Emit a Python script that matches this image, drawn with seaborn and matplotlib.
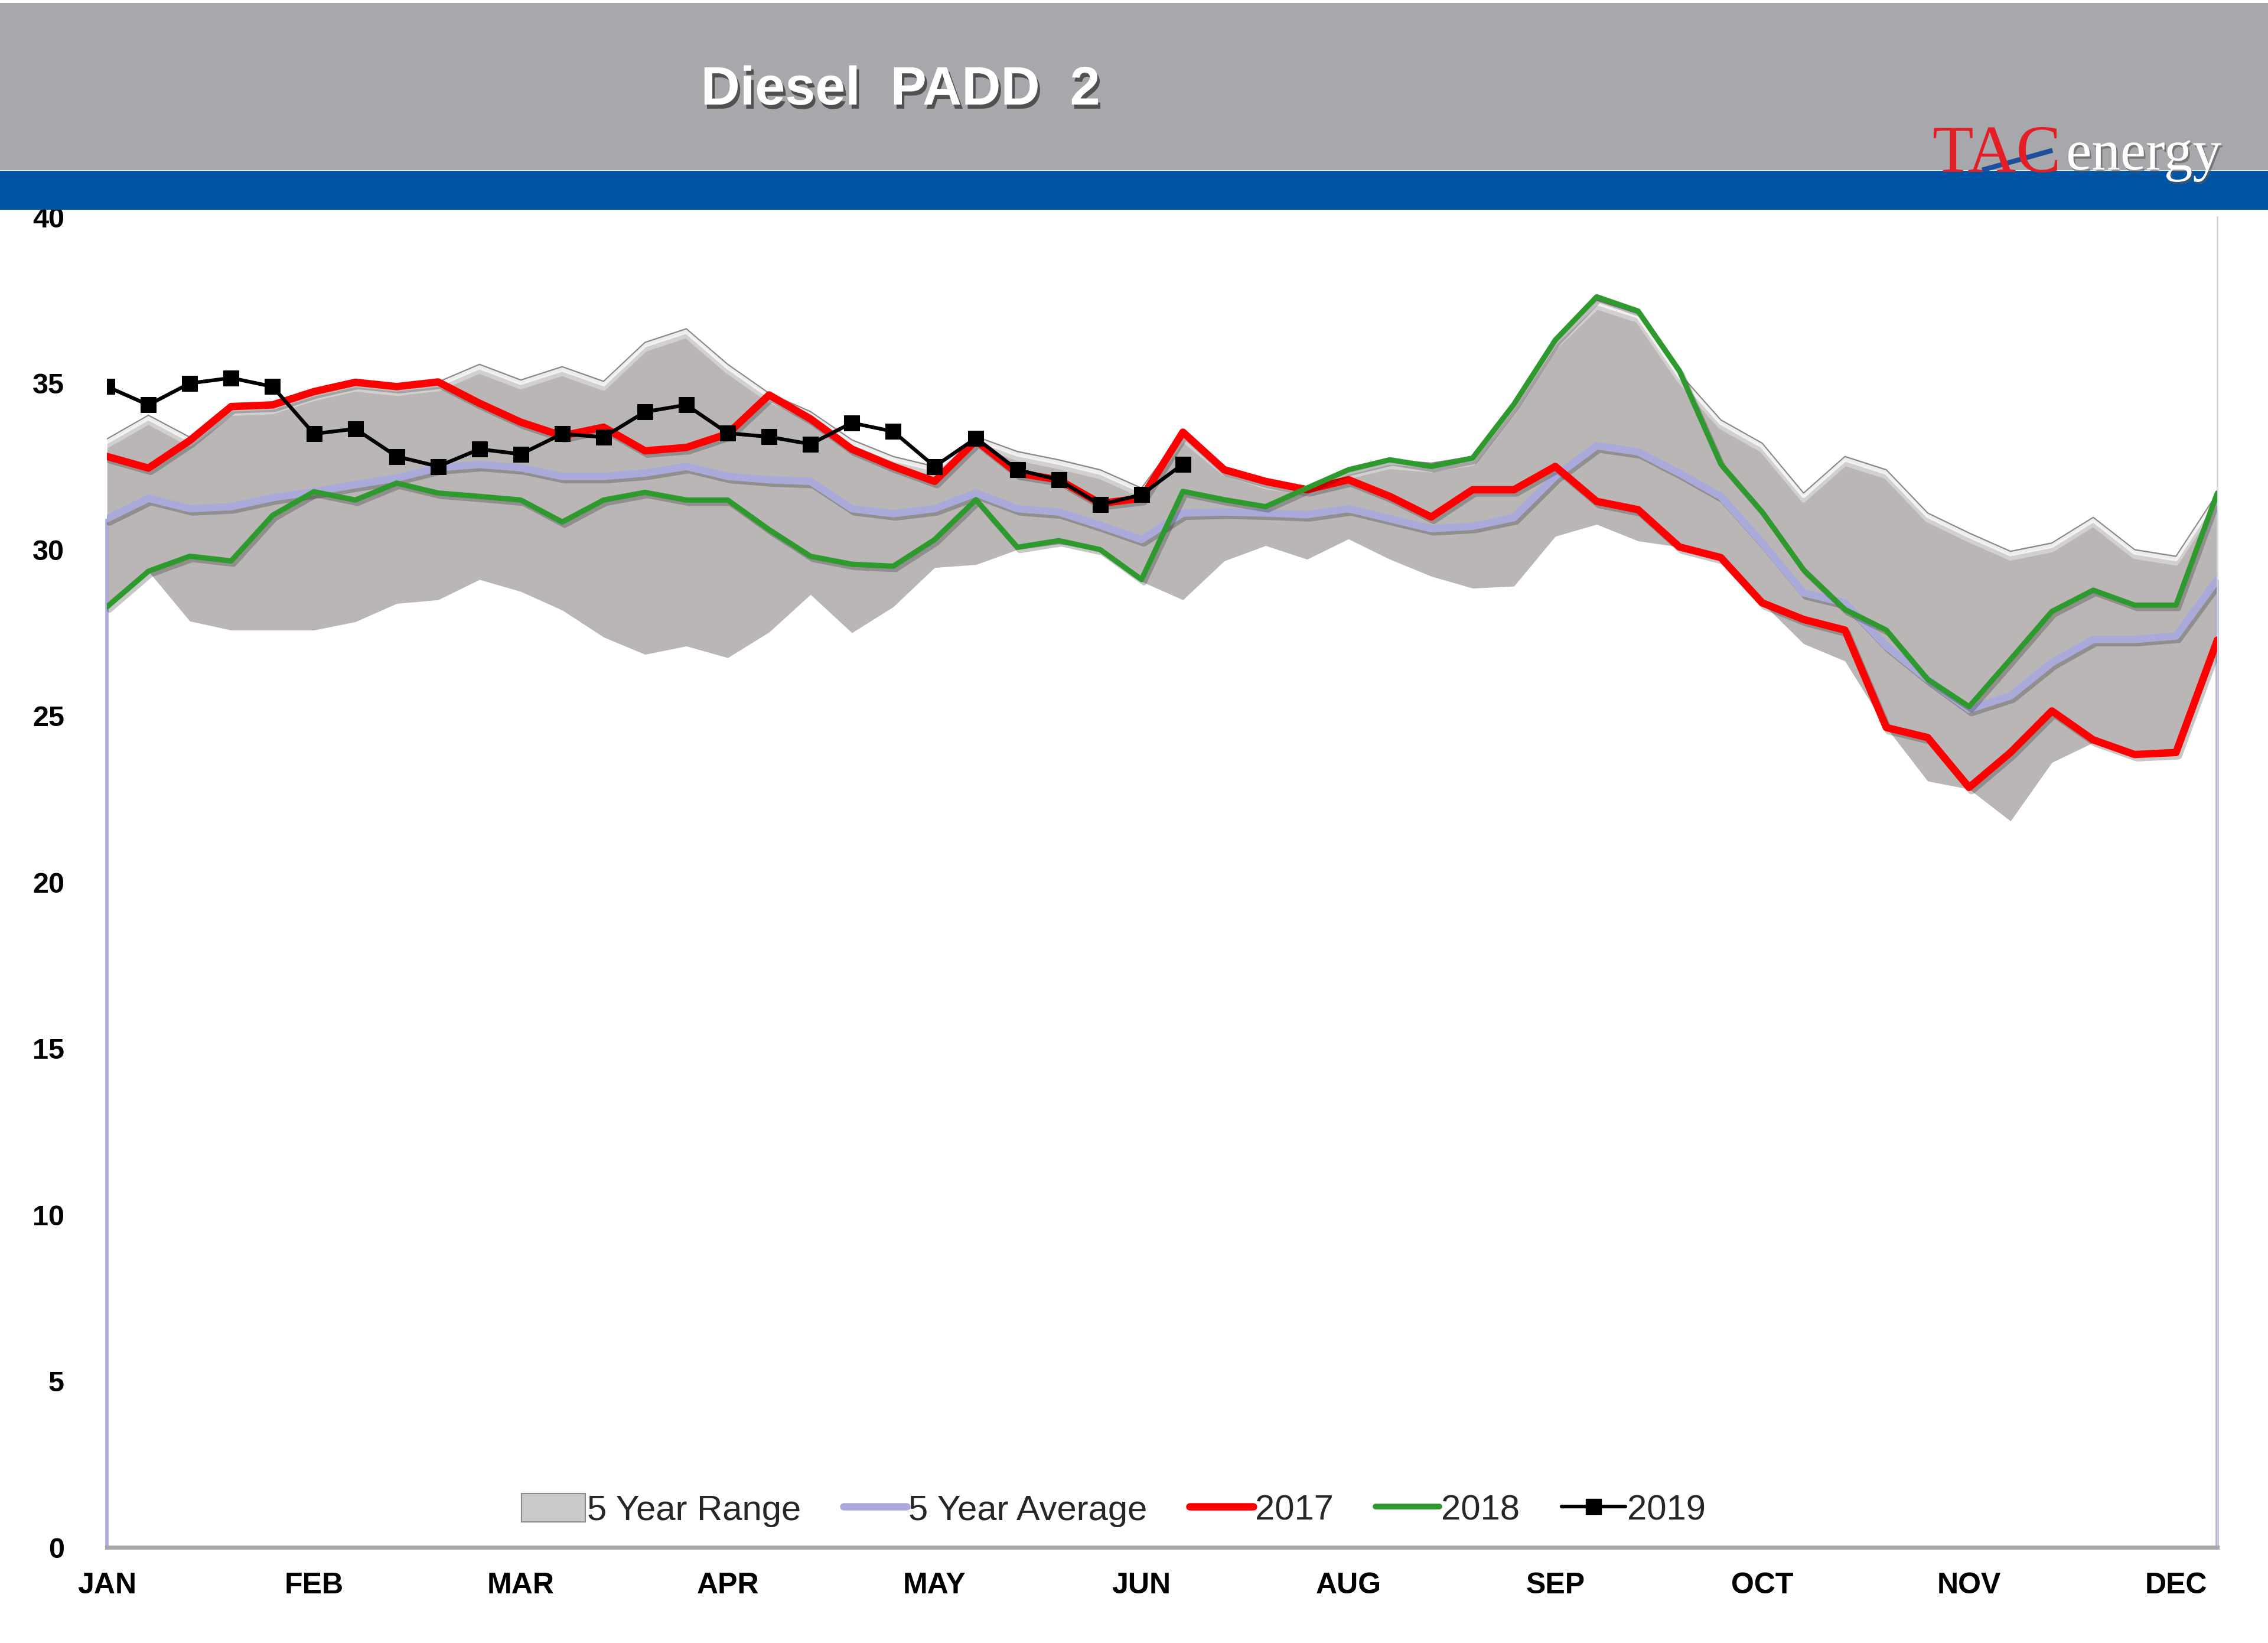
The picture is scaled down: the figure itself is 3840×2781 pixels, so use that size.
import numpy as np
import pandas as pd
import matplotlib
matplotlib.use("Agg")
import matplotlib.pyplot as plt
import matplotlib.patheffects as pe
from matplotlib.patches import Rectangle, Patch
from matplotlib.lines import Line2D
from matplotlib.transforms import offset_copy
import seaborn as sns

# ---------------- data (weekly, 52 weeks) ----------------
month_labels = ['JAN', 'FEB', 'MAR', 'APR', 'MAY', 'JUN', 'AUG', 'SEP', 'OCT', 'NOV', 'DEC']
weeks = list(range(52))

range_lo = [28.28, 29.35, 27.85, 27.58, 27.58, 27.58, 27.83, 28.38, 28.49, 29.1,
            28.74, 28.18, 27.37, 26.85, 27.1, 26.75, 27.52, 28.65, 27.5, 28.28,
            29.46, 29.55, 30.0, 30.17, 30.0, 29.04, 28.49, 29.66, 30.12, 29.71,
            30.32, 29.71, 29.2, 28.84, 28.9, 30.4, 30.76, 30.26, 30.08, 29.76,
            28.4, 27.17, 26.65, 24.65, 23.04, 22.8, 21.84, 23.6, 24.2, 23.84,
            23.9, 27.28]
range_hi = [33.33, 34.04, 33.38, 34.3, 34.35, 34.75, 35.03, 34.9, 35.04, 35.57,
            35.1, 35.5, 35.06, 36.23, 36.64, 35.57, 34.7, 34.15, 33.3, 32.8,
            32.5, 33.4, 32.95, 32.7, 32.4, 31.85, 33.53, 32.5, 32.1, 31.9,
            32.4, 32.7, 32.6, 32.8, 34.4, 36.3, 37.5, 37.1, 35.3, 33.9,
            33.2, 31.7, 32.8, 32.4, 31.1, 30.5, 29.95, 30.2, 30.97, 30.0,
            29.8, 31.7]
avg5 = [30.93, 31.54, 31.23, 31.29, 31.56, 31.74, 31.95, 32.15, 32.46, 32.56,
        32.46, 32.2, 32.2, 32.3, 32.5, 32.2, 32.1, 32.05, 31.23, 31.08,
        31.23, 31.7, 31.23, 31.13, 30.73, 30.3, 31.1, 31.13, 31.1, 31.05,
        31.23, 30.93, 30.63, 30.7, 30.96, 32.2, 33.12, 32.94, 32.3, 31.6,
        30.2, 28.7, 28.4, 27.1, 26.1, 25.2, 25.6, 26.6, 27.3, 27.3,
        27.4, 29.1]
y2017 = [32.8, 32.45, 33.28, 34.3, 34.35, 34.75, 35.03, 34.9, 35.04, 34.4,
         33.83, 33.42, 33.68, 32.97, 33.07, 33.48, 34.65, 33.93, 33.02, 32.5,
         32.05, 33.28, 32.3, 32.1, 31.39, 31.54, 33.53, 32.4, 32.05, 31.8,
         32.1, 31.6, 30.98, 31.8, 31.8, 32.5, 31.45, 31.2, 30.08, 29.76,
         28.4, 27.9, 27.58, 24.65, 24.35, 22.85, 23.9, 25.15, 24.28, 23.84,
         23.9, 27.28]
y2018 = [28.28, 29.35, 29.8, 29.66, 31.03, 31.74, 31.49, 32.0, 31.7, 31.6,
         31.49, 30.83, 31.49, 31.72, 31.49, 31.49, 30.6, 29.8, 29.56, 29.5,
         30.3, 31.5, 30.07, 30.27, 30.0, 29.1, 31.75, 31.5, 31.29, 31.85,
         32.4, 32.7, 32.5, 32.75, 34.37, 36.3, 37.6, 37.17, 35.37, 32.57,
         31.13, 29.39, 28.2, 27.58, 26.1, 25.28, 26.7, 28.14, 28.78, 28.33,
         28.33, 31.7]
y2019 = [34.9, 34.35, 35.0, 35.16, 34.9, 33.48, 33.63, 32.8, 32.5, 33.02,
         32.87, 33.48, 33.38, 34.14, 34.35, 33.5, 33.39, 33.17, 33.81, 33.55,
         32.5, 33.35, 32.4, 32.1, 31.35, 31.65, 32.57]
weeks2019 = weeks[:len(y2019)]

# ---------------- style ----------------
sns.set_theme(style="white")
plt.rcParams['font.family'] = ['Liberation Sans', 'DejaVu Sans']

C_RANGE = '#BAB6B6'
C_AVG = '#AAAADA'
C_RED = '#FF0000'
C_GREEN = '#2E9A2E'

fig = plt.figure(figsize=(38.4, 27.81), dpi=100)
fig.patch.set_facecolor('white')

L, R = 74 / 1568, 1533 / 1568
B, T = 1 - 1070 / 1136, 1 - 150 / 1136
ax = fig.add_axes([L, B, R - L, T - B])
ax.set_facecolor('white')

shadow = [pe.SimpleLineShadow(offset=(3, -4), shadow_color='black', alpha=0.22), pe.Normal()]

# 5 year range (area with bevel-like highlight on top edge)
ax.fill_between(weeks, range_lo, range_hi, color=C_RANGE, lw=0, zorder=1)
for off, lw, a in [(-5, 5, 0.75), (-11, 7, 0.35)]:
    tr = offset_copy(ax.transData, fig=fig, x=0, y=off, units='dots')
    ax.plot(weeks, range_hi, color='white', lw=lw, alpha=a, transform=tr, zorder=1.1,
            solid_joinstyle='round')
ax.plot(weeks, range_hi, color='#8E8686', lw=1.5, zorder=1.2)

# 5-year average (area outline -> vertical edges at ends)
ax.vlines([0, 51], 0, [avg5[0], avg5[-1]], color=C_AVG, lw=4, zorder=1.5, clip_on=False)
sns.lineplot(x=weeks, y=avg5, ax=ax, color=C_AVG, linewidth=9, zorder=2,
             path_effects=shadow)
sns.lineplot(x=weeks, y=y2017, ax=ax, color=C_RED, linewidth=9, zorder=3,
             path_effects=shadow)
sns.lineplot(x=weeks, y=y2018, ax=ax, color=C_GREEN, linewidth=6.5, zorder=4,
             path_effects=shadow)
sns.lineplot(x=weeks2019, y=y2019, ax=ax, color='black', linewidth=4.5, marker='s',
             markersize=19, markeredgecolor='black', zorder=5)

ax.set_xlim(0, 51)
ax.set_ylim(0, 40)
ax.set_xticks(range(0, 52, 5))
ax.set_xticklabels(month_labels)
ax.set_yticks(range(0, 41, 5))
ax.tick_params(axis='x', length=0, pad=30, labelsize=36)
ax.tick_params(axis='y', length=0, pad=52, labelsize=35)
for t in ax.get_xticklabels() + ax.get_yticklabels():
    t.set_fontweight('bold')
    t.set_color('black')
ax.set_xlabel('')
ax.set_ylabel('')

for s in ['top', 'left']:
    ax.spines[s].set_visible(False)
ax.spines['right'].set_color('#D4D4DC')
ax.spines['right'].set_linewidth(2)
ax.spines['bottom'].set_color('#A8A8A8')
ax.spines['bottom'].set_linewidth(5)
ax.spines['bottom'].set_path_effects([pe.SimplePatchShadow(offset=(0, -5), alpha=0.25), pe.Normal()])

# legend
handles = [
    Patch(facecolor='#CACACA', edgecolor='#8A8A8A', linewidth=1.5),
    Line2D([], [], color=C_AVG, lw=9),
    Line2D([], [], color=C_RED, lw=9),
    Line2D([], [], color=C_GREEN, lw=7),
    Line2D([], [], color='black', lw=4.5, marker='s', markersize=19),
]
labels = ['5 Year Range', '5 Year Average', '2017', '2018', '2019']
ax.legend(handles, labels, loc='center', bbox_to_anchor=(0.477, 0.028), ncol=5,
          frameon=False, fontsize=43, handlelength=1.8, handletextpad=0.05,
          columnspacing=1.2, handleheight=0.85)

# ---------------- header ----------------
hax = fig.add_axes([0, 0, 1, 1], zorder=10)
hax.set_xlim(0, 1)
hax.set_ylim(0, 1)
hax.axis('off')
hax.patch.set_alpha(0)
hax.add_patch(Rectangle((0, 0.8964), 1, 0.9982 - 0.8964, color='#A7A8AC', lw=0))
hax.add_patch(Rectangle((0, 0.8723), 1, 0.8960 - 0.8723, color='#0054A5', lw=0))

hax.text(0.397, 0.945, 'Diesel  PADD  2', color='white', fontsize=66, fontweight='bold',
         ha='center', va='center',
         path_effects=[pe.withSimplePatchShadow(offset=(3, -5), shadow_rgbFace='#3A3A3A', alpha=0.8)])

hax.text(0.852, 0.8955, 'TAC', color='#E31E24', family=['Liberation Serif'], fontsize=82,
         ha='left', va='baseline')
hax.plot([0.874, 0.905], [0.8965, 0.9085], color='#1F4E9E', lw=6, solid_capstyle='butt')
hax.text(0.911, 0.8968, 'energy', color='white', family=['Liberation Serif'], fontsize=70,
         ha='left', va='baseline',
         path_effects=[pe.withSimplePatchShadow(offset=(2, -3), shadow_rgbFace='#555555', alpha=0.6)])

fig.savefig('out.png', dpi=100, facecolor='white')
